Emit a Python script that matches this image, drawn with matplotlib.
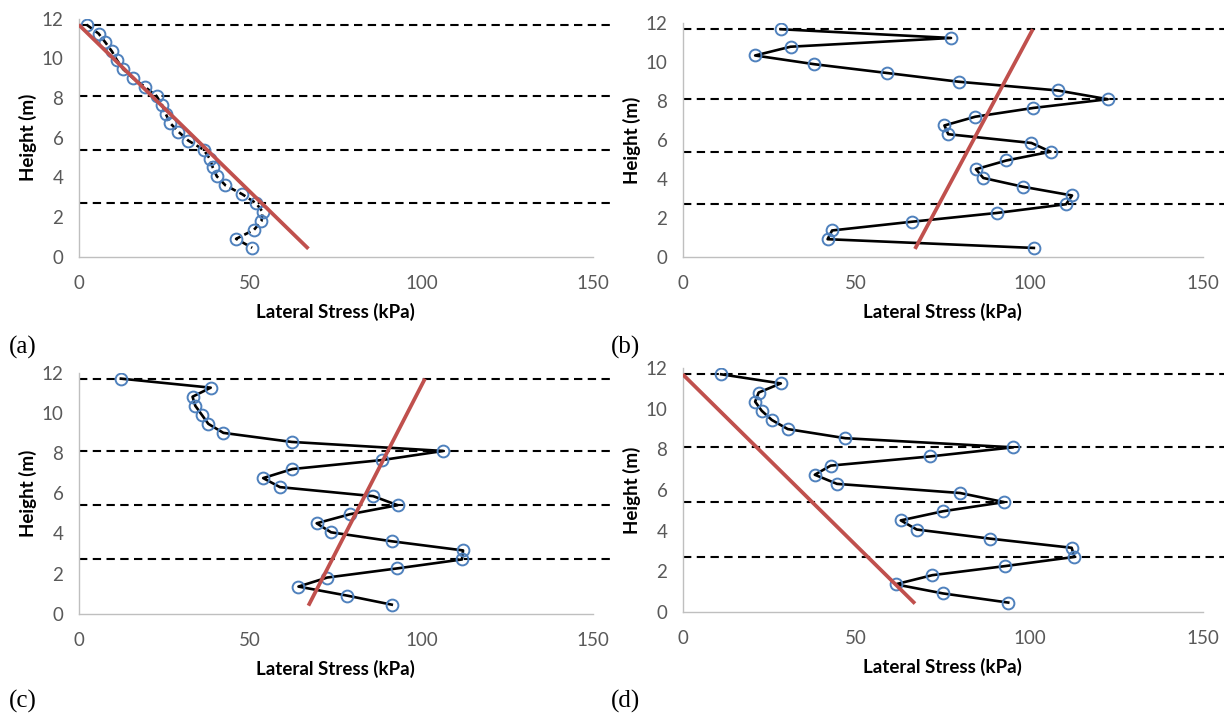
import numpy as np
import matplotlib.pyplot as plt

# heights of the measuring points (m), top to bottom
height = [11.7, 11.25, 10.8, 10.35, 9.9, 9.45, 9.0, 8.55, 8.1, 7.65, 7.2, 6.75, 6.3,
          5.85, 5.4, 4.95, 4.5, 4.05, 3.6, 3.15, 2.7, 2.25, 1.8, 1.35, 0.9, 0.45]

# lateral stress (kPa)
stress_a = [2.3, 5.8, 7.8, 9.7, 11.2, 13.0, 15.9, 19.4, 22.7, 24.3, 25.4, 26.6, 29.1,
            32.0, 36.4, 38.2, 39.1, 40.3, 42.8, 47.7, 51.7, 53.7, 53.3, 51.1, 45.9, 50.6]
stress_b = [28.3, 77.4, 31.1, 20.9, 38.0, 58.9, 79.6, 108.2, 122.6, 101.1, 84.4, 75.5, 76.6,
            100.6, 106.1, 93.4, 84.6, 86.7, 98.1, 112.3, 110.6, 90.6, 66.2, 43.1, 41.8, 101.3]
stress_c = [12.3, 38.5, 33.2, 34.0, 35.9, 37.8, 42.2, 62.1, 106.3, 88.6, 62.3, 53.8, 58.7,
            85.9, 93.0, 79.1, 69.4, 73.6, 91.5, 112.1, 111.8, 92.7, 72.5, 64.1, 78.3, 91.3]
stress_d = [11.1, 28.3, 21.9, 20.9, 22.8, 25.7, 30.3, 46.9, 95.3, 71.3, 42.7, 38.1, 44.5,
            80.0, 92.7, 75.1, 62.9, 67.5, 88.7, 112.2, 113.0, 93.1, 72.0, 61.4, 75.1, 93.9]

# theoretical lines (x pairs, y pairs)
theory_active_x = [0, 67]
theory_at_rest_x = [67, 101]
theory_y_active = [11.7, 0.4]
theory_y_at_rest = [0.4, 11.7]

# layer boundaries (m)
layers = [11.7, 8.1, 5.4, 2.7]

panels = [
    ("(a)", stress_a, theory_active_x, theory_y_active, True),
    ("(b)", stress_b, theory_at_rest_x, theory_y_at_rest, False),
    ("(c)", stress_c, theory_at_rest_x, theory_y_at_rest, False),
    ("(d)", stress_d, theory_active_x, theory_y_active, False),
]

# axes boxes in pixels: left, bottom(y from top), right, top(y from top)
W, H = 1228, 716
boxes = [
    (78.7, 256.7, 593.0, 18.7),
    (682.7, 256.7, 1202.7, 23.4),
    (78.7, 613.7, 593.0, 372.6),
    (682.7, 611.7, 1202.7, 368.2),
]
label_pos = [(9, 347), (611, 347), (9, 701), (611, 701)]

fig = plt.figure(figsize=(W / 100, H / 100), dpi=100)
tick_color = '#595959'
spine_color = '#BFBFBF'

for (name, stress, tx, ty, dashed), (l, b, r, t), (lx, ly) in zip(panels, boxes, label_pos):
    ax = fig.add_axes([l / W, 1 - b / H, (r - l) / W, (b - t) / H])
    for yl in layers:
        ax.plot([0, 156], [yl, yl], color='black', lw=1.5, dashes=(4.0, 2.6),
                clip_on=False, zorder=1)
    ls = '--' if dashed else '-'
    line, = ax.plot(stress, height, color='black', lw=1.9, linestyle=ls, zorder=2,
                    marker='o', markersize=8.5, markerfacecolor='none',
                    markeredgecolor='#4F81BD', markeredgewidth=1.4)
    if dashed:
        line.set_dashes((2.6, 1.6))
    ax.plot(tx, ty, color='#C0504D', lw=2.7, zorder=3, solid_capstyle='butt')

    ax.set_xlim(0, 150)
    ax.set_ylim(0, 12)
    ax.set_xticks([0, 50, 100, 150])
    ax.set_yticks(range(0, 13, 2))
    ax.tick_params(length=0, colors=tick_color, labelsize=13.5)
    ax.tick_params(axis='x', pad=13)
    ax.tick_params(axis='y', pad=11)
    for lab in ax.get_xticklabels() + ax.get_yticklabels():
        lab.set_family('Lato')
    for s in ['top', 'right']:
        ax.spines[s].set_visible(False)
    for s in ['left', 'bottom']:
        ax.spines[s].set_color(spine_color)
        ax.spines[s].set_linewidth(1.0)
    ax.set_xlabel('Lateral Stress (kPa)', fontsize=13.5, fontweight='bold',
                  family='Lato', labelpad=8)
    ax.set_ylabel('Height (m)', fontsize=13.5, fontweight='bold',
                  family='Lato', labelpad=3)
    fig.text(lx / W, 1 - ly / H, name, fontsize=18, family='Liberation Serif',
             va='center', ha='left')

fig.savefig('out.png', dpi=100)
